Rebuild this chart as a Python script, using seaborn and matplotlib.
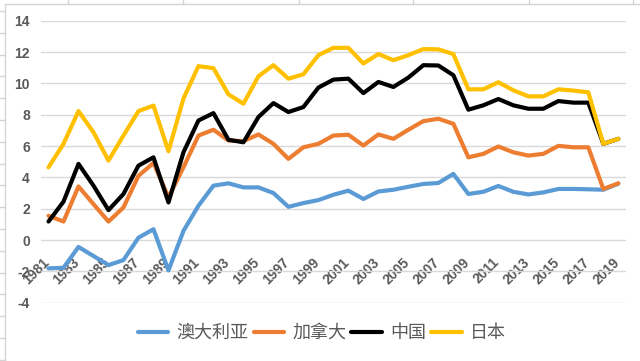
import numpy as np
import pandas as pd
import matplotlib
matplotlib.use("Agg")
import matplotlib.pyplot as plt
from matplotlib.lines import Line2D
from matplotlib.transforms import ScaledTranslation
import seaborn as sns

years = list(range(1981, 2020))
australia = [-1.81, -1.77, -0.44, -1.02, -1.60, -1.28, 0.15, 0.69, -1.94, 0.58,
             2.19, 3.47, 3.62, 3.36, 3.36, 3.00, 2.12, 2.36, 2.55, 2.89,
             3.15, 2.62, 3.10, 3.21, 3.40, 3.58, 3.64, 4.22, 2.94, 3.08,
             3.45, 3.08, 2.91, 3.04, 3.26, 3.26, 3.24, 3.21, 3.60]
canada = [1.55, 1.18, 3.42, 2.29, 1.18, 2.08, 4.10, 4.92, 2.72, 4.64,
          6.67, 7.04, 6.35, 6.31, 6.74, 6.14, 5.18, 5.92, 6.14, 6.67,
          6.72, 6.03, 6.74, 6.46, 7.04, 7.59, 7.74, 7.42, 5.28, 5.50,
          5.97, 5.60, 5.39, 5.50, 6.01, 5.92, 5.92, 3.26, 3.62]
china = [1.18, 2.45, 4.86, 3.47, 1.91, 2.94, 4.75, 5.28, 2.40, 5.60,
         7.63, 8.10, 6.40, 6.24, 7.85, 8.74, 8.17, 8.49, 9.73, 10.24,
         10.30, 9.38, 10.09, 9.77, 10.37, 11.16, 11.14, 10.52, 8.32, 8.60,
         9.00, 8.60, 8.38, 8.38, 8.87, 8.77, 8.77, 6.14, 6.46]
japan = [4.64, 6.14, 8.23, 6.88, 5.07, 6.67, 8.23, 8.58, 5.67, 9.03,
         11.10, 10.97, 9.30, 8.70, 10.45, 11.16, 10.30, 10.58, 11.80, 12.27,
         12.27, 11.27, 11.87, 11.48, 11.80, 12.19, 12.17, 11.87, 9.62, 9.62,
         10.07, 9.56, 9.17, 9.17, 9.62, 9.54, 9.43, 6.14, 6.46]

series_names = ["澳大利亚", "加拿大", "中国", "日本"]
colors = ["#5B9BD5", "#ED7D31", "#000000", "#FFC000"]
y_ticks = list(range(-4, 15, 2))
x_ticks = years[::2]

sns.set_theme(style="white")
plt.rcParams["font.family"] = ["Liberation Sans", "Noto Sans CJK SC", "DejaVu Sans"]

df = pd.DataFrame({
    "year": years * 4,
    "value": australia + canada + china + japan,
    "country": sum([[n] * len(years) for n in series_names], []),
})

W, H = 640, 361
fig = plt.figure(figsize=(W / 100, H / 100), dpi=100)
fig.patch.set_facecolor("white")

left, right, top, bottom = 41.0, 625.8, 20.7, 302.7
ax = fig.add_axes([left / W, 1 - bottom / H, (right - left) / W, (bottom - top) / H])
ax.set_facecolor("none")

sns.lineplot(data=df, x="year", y="value", hue="country", hue_order=series_names,
             palette=colors, linewidth=3, ax=ax, legend=False)

for s in ax.spines.values():
    s.set_visible(False)
ax.spines["bottom"].set_position(("data", 0))

ax.set_xlim(1980.5, 2019.5)
ax.set_ylim(-4, 14)
ax.set_yticks(y_ticks)
ax.set_yticklabels([str(t) for t in y_ticks])
ax.set_xticks(x_ticks)
ax.set_xticklabels([str(t) for t in x_ticks])
ax.set_xlabel("")
ax.set_ylabel("")
ax.yaxis.grid(True, color="#d9d9d9", linewidth=1)
ax.xaxis.grid(False)
ax.set_axisbelow(True)
ax.tick_params(axis="both", length=0, colors="#595959", labelsize=10)
ax.tick_params(axis="y", pad=8)
ax.tick_params(axis="x", pad=11, labelrotation=45)
shift = ScaledTranslation(-0.06, 0, fig.dpi_scale_trans)
for lab in ax.get_xticklabels():
    lab.set_ha("right")
    lab.set_va("top")
    lab.set_rotation_mode("anchor")
    lab.set_transform(lab.get_transform() + shift)
for lab in ax.get_xticklabels() + ax.get_yticklabels():
    lab.set_fontweight("bold")
    lab.set_color("#595959")

handles = [Line2D([], [], color=c, linewidth=3) for c in colors]
fig.legend(handles, series_names, loc="center", bbox_to_anchor=(0.503, 1 - 333 / H),
           ncol=4, frameon=False, handlelength=1.7, handletextpad=0.45,
           columnspacing=0.28, prop={"family": "Noto Sans CJK SC", "size": 13},
           labelcolor="#595959")

# spreadsheet background lines around chart area
gc = "#d4d4d4"
def px_line(x0, y0, x1, y1):
    fig.add_artist(Line2D([x0 / W, x1 / W], [1 - y0 / H, 1 - y1 / H],
                          transform=fig.transFigure, color=gc, linewidth=1))
px_line(5, 4, 640, 4)
px_line(5, 4, 5, 361)
for xc in [68, 183, 299, 413, 529, 633]:
    px_line(xc, 0, xc, 4)
for yr in np.arange(11, 361, 21.8):
    px_line(0, yr, 5, yr)

fig.savefig("out.png", dpi=100)
